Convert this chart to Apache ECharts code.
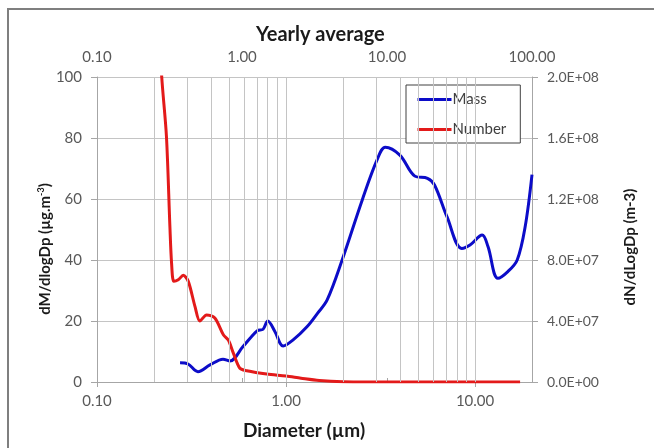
<!DOCTYPE html>
<html>
<head>
<meta charset="utf-8">
<script src="https://cdn.jsdelivr.net/npm/echarts@6/dist/echarts.min.js"></script>
<style>
html, body { margin: 0; padding: 0; background: #fff; }
#chart { width: 654px; height: 448px; }
</style>
</head>
<body>
<div id="chart"></div>
<script>
// 粒径 (µm) 与质量分布 dM/dlogDp
var massD   = [0.275, 0.303, 0.342, 0.396, 0.464, 0.505, 0.592, 0.703, 0.756, 0.80, 0.874, 0.965, 1.09, 1.29, 1.47, 1.65, 1.98, 2.53, 3.03, 3.35, 4.00, 4.8, 5.6, 6.1, 7.1, 8.5, 9.4, 10.9, 11.7, 13.2, 14.9, 16.7, 18.4, 20];
var massVal = [6.3, 5.9, 3.4, 5.6, 7.5, 6.9, 11.6, 16.8, 17.3, 20, 16.5, 11.8, 13.8, 18.1, 22.6, 26.9, 40, 59.7, 72.8, 77, 74.4, 67.5, 66.8, 64.6, 54.2, 43.8, 44.9, 48.2, 44.4, 34, 36.2, 40, 50.9, 68];

// 数浓度 dN/dlogDp
var numD   = [0.212, 0.22, 0.233, 0.243, 0.248, 0.255, 0.269, 0.286, 0.304, 0.33, 0.35, 0.38, 0.42, 0.466, 0.495, 0.527, 0.57, 0.62, 0.79, 1.0, 1.2, 1.5, 2.0, 3.0, 5.0, 10, 17.3];
var numVal = [2.4e8, 2.0e8, 1.61e8, 1.02e8, 7.8e7, 6.6e7, 6.7e7, 7.0e7, 6.6e7, 4.94e7, 4.0e7, 4.4e7, 4.2e7, 3.1e7, 2.75e7, 1.88e7, 9.0e6, 7.4e6, 5.2e6, 3.9e6, 2.5e6, 1.0e6, 2e5, 5e4, 0, 0, 0];

// 对数刻度的竖向网格线
var gridD = [0.2, 0.3, 0.4, 0.5, 0.6, 0.7, 0.8, 0.9, 1, 2, 3, 4, 5, 6, 7, 8, 9, 10];

var leftTicks = [0, 100, 20];      // min, max, interval
var rightTicks = [0, 2e8, 4e7];

function zip(a, b) {
	var out = [];
	for (var i = 0; i < a.length; i++) out.push([a[i], b[i]]);
	return out;
}

function isPow10(v) {
	var l = Math.log10(v);
	return Math.abs(l - Math.round(l)) < 1e-6;
}

// 2.0E+08 样式
function sciFmt(v) {
	if (v === 0) return '0.0E+00';
	var e = Math.floor(Math.log10(v) + 1e-9);
	var m = v / Math.pow(10, e);
	var es = (e < 0 ? '-' : '+') + (Math.abs(e) < 10 ? '0' : '') + Math.abs(e);
	return m.toFixed(1) + 'E' + es;
}

var font = 'Lato, "Noto Sans", sans-serif';
var lblColor = '#595959';
var axisColor = '#a6a6a6';
var gridColor = '#c4c4c4';

var myChart = echarts.init(document.getElementById('chart'));
var option = {
	animation: false,
	backgroundColor: '#fff',
	textStyle: { fontFamily: font },
	grid: { left: 97, right: 122, top: 77, bottom: 66 },
	legend: {
		data: ['Mass', 'Number'],
		orient: 'vertical',
		left: 406,
		top: 85,
		itemWidth: 34,
		itemHeight: 14,
		itemGap: 15,
		itemStyle: { opacity: 0 },
		lineStyle: { width: 3 },
		padding: [7, 14, 6, 10],
		backgroundColor: '#fff',
		borderColor: '#404040',
		borderWidth: 1,
		textStyle: { fontSize: 15, color: '#404040', fontFamily: font, padding: [0, 0, 0, -4] }
	},
	xAxis: [
		{
			type: 'log',
			logBase: 10,
			min: 0.1,
			max: 20,
			position: 'bottom',
			axisLine: { lineStyle: { color: axisColor } },
			axisTick: { show: true, length: 5, lineStyle: { color: axisColor } },
			splitLine: { show: false },
			axisLabel: {
				fontSize: 15, color: lblColor, margin: 12, showMaxLabel: false,
				formatter: function(v) { return isPow10(v) ? v.toFixed(2) : ''; }
			}
		},
		{
			type: 'log',
			logBase: 10,
			min: 0.1,
			max: 100,
			position: 'top',
			axisLine: { lineStyle: { color: axisColor } },
			axisTick: { show: true, length: 4, lineStyle: { color: axisColor } },
			splitLine: { show: false },
			axisLabel: {
				fontSize: 15, color: lblColor, margin: 12,
				formatter: function(v) { return v.toFixed(2); }
			}
		}
	],
	yAxis: [
		{
			type: 'value',
			min: leftTicks[0], max: leftTicks[1], interval: leftTicks[2],
			axisLine: { show: true, lineStyle: { color: axisColor } },
			axisTick: { show: true, length: 6, lineStyle: { color: axisColor } },
			splitLine: { show: true, lineStyle: { color: gridColor } },
			axisLabel: { fontSize: 15, color: lblColor, margin: 15 }
		},
		{
			type: 'value',
			min: rightTicks[0], max: rightTicks[1], interval: rightTicks[2],
			position: 'right',
			axisLine: { show: true, lineStyle: { color: axisColor } },
			axisTick: { show: true, length: 6, lineStyle: { color: axisColor } },
			splitLine: { show: false },
			axisLabel: { fontSize: 14, color: lblColor, margin: 15, formatter: sciFmt }
		}
	],
	series: [
		{
			// 竖向网格线
			name: 'grid',
			type: 'line',
			data: [],
			z: 1,
			silent: true,
			markLine: {
				silent: true,
				symbol: ['none', 'none'],
				label: { show: false },
				lineStyle: { color: gridColor, type: 'solid', width: 1 },
				data: gridD.map(function(d) { return { xAxis: d }; })
			}
		},
		{
			name: 'Mass',
			type: 'line',
			xAxisIndex: 0,
			yAxisIndex: 0,
			data: zip(massD, massVal),
			smooth: 0.35,
			symbol: 'none',
			z: 3,
			itemStyle: { color: '#0c0cc8' },
			lineStyle: { color: '#0c0cc8', width: 3 }
		},
		{
			name: 'Number',
			type: 'line',
			xAxisIndex: 0,
			yAxisIndex: 1,
			data: zip(numD, numVal),
			smooth: 0.3,
			symbol: 'none',
			z: 3,
			itemStyle: { color: '#e31a1a' },
			lineStyle: { color: '#e31a1a', width: 3 }
		}
	],
	graphic: [
		{
			type: 'rect',
			shape: { x: 8, y: 9, width: 700, height: 500 },
			style: { fill: 'none', stroke: '#7f7f7f', lineWidth: 2 },
			silent: true
		},
		{
			type: 'text',
			left: 256,
			top: 25,
			style: { text: 'Yearly average', font: 'bold 20px ' + font, fill: '#1a1a1a' }
		},
		{
			type: 'text',
			top: 421,
			left: 243,
			style: { text: 'Diameter (µm)', font: 'bold 19px ' + font, fill: '#1a1a1a' }
		},
		{
			type: 'text',
			x: 45, y: 249,
			rotation: Math.PI / 2,
			style: {
				text: 'dM/dlogDp (µg.m{sup|-3})',
				font: 'bold 15px ' + font,
				fill: '#1a1a1a',
				align: 'center',
				verticalAlign: 'middle',
				rich: { sup: { fontSize: 9, fontWeight: 'bold', fontFamily: font, verticalAlign: 'top', padding: [0, 0, 8, 0] } }
			}
		},
		{
			type: 'text',
			x: 630, y: 247,
			rotation: Math.PI / 2,
			style: {
				text: 'dN/dLogDp (m-3)',
				font: 'bold 15px ' + font,
				fill: '#1a1a1a',
				align: 'center',
				verticalAlign: 'middle'
			}
		}
	]
};

myChart.setOption(option);
window.onresize = myChart.resize;
</script>
</body>
</html>
